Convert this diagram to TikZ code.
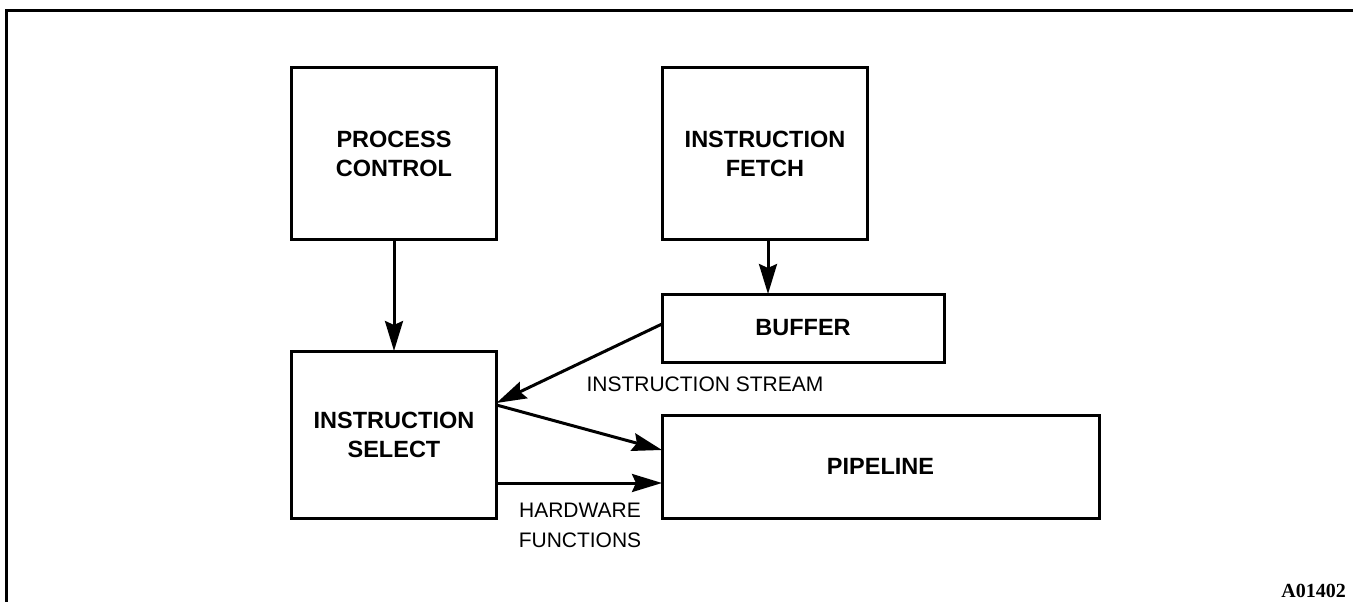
\documentclass[tikz,border=0pt]{standalone}
\usepackage{fontspec}
\newfontfamily\hv{Liberation Sans}
\newfontfamily\serifb{Liberation Serif}
\usetikzlibrary{arrows.meta}
\begin{document}
\begin{tikzpicture}[x=1pt,y=-1pt,
  blk/.style={draw, line width=3pt, rectangle, outer sep=0pt, inner sep=0pt, align=center,
    font=\hv\bfseries\fontsize{23.5}{29}\selectfont},
  arr/.style={line width=3pt, -{Stealth[length=30pt,width=18pt,inset=4pt]}},
  lbl/.style={align=center, inner sep=0pt, font=\hv\fontsize{21}{30}\selectfont}]
\useasboundingbox (0,0) rectangle (1353,602);
\draw[line width=3pt] (6,602) -- (6,11) -- (1353,11);
\node[blk, minimum width=205pt, minimum height=171pt] (pc) at (394,153.5) {PROCESS\\CONTROL};
\node[blk, minimum width=205pt, minimum height=171pt] (if) at (765,153.5) {INSTRUCTION\\FETCH};
\node[blk, minimum width=282pt, minimum height=68pt] (buf) at (803,328) {BUFFER};
\node[blk, minimum width=205pt, minimum height=167pt] (is) at (394,434.5) {INSTRUCTION\\SELECT};
\node[blk, minimum width=437pt, minimum height=103pt] (pipe) at (880.5,466.5) {PIPELINE};
\draw[arr] (pc.south) -- (is.north);
\draw[arr] ([xshift=3pt]if.south) -- ([xshift=3pt]if.south |- buf.north);
\draw[arr] ([yshift=4pt]buf.west) -- ([yshift=31.5pt]is.east);
\draw[arr] ([yshift=29.5pt]is.east) -- ([yshift=16.5pt]pipe.west);
\draw[arr] ([yshift=-48.5pt]is.east) -- ([yshift=-16.5pt]pipe.west);
\node[lbl] (ist) at (705,384) {INSTRUCTION STREAM};
\node[lbl] (hw) at (580,525) {HARDWARE\\FUNCTIONS};
\node[anchor=base east, inner sep=0pt, font=\serifb\bfseries\fontsize{20}{24}\selectfont] (id) at (1346,597) {A01402};
\end{tikzpicture}
\end{document}
